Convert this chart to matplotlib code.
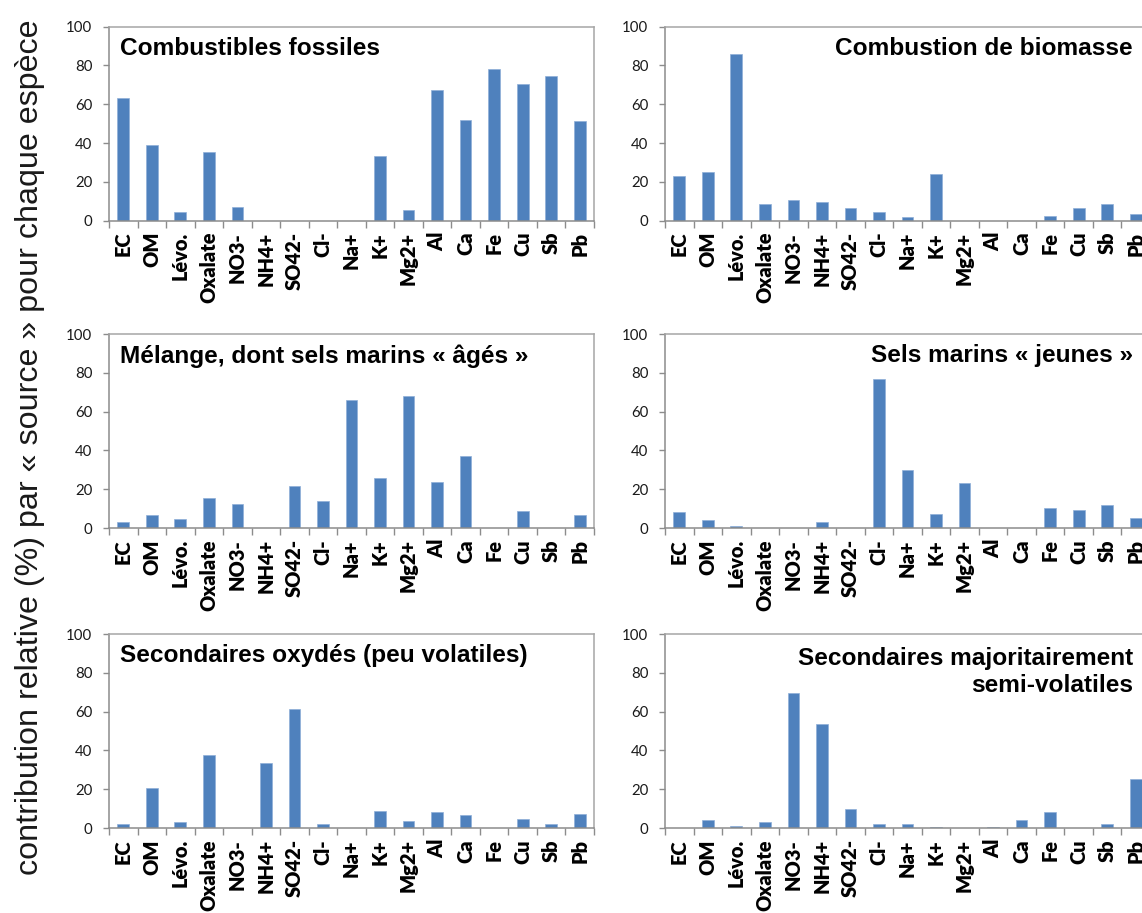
import matplotlib
matplotlib.use("Agg")
import matplotlib.pyplot as plt
import numpy as np

# Chemical species on the category axis
species = ["EC", "OM", "Lévo.", "Oxalate", "NO3-", "NH4+", "SO42-", "Cl-", "Na+",
           "K+", "Mg2+", "Al", "Ca", "Fe", "Cu", "Sb", "Pb"]

# Relative contribution (%) of each source factor to every species
fossil_fuels = [63.1, 39.0, 4.6, 35.4, 7.0, 0, 0, 0, 0,
                33.2, 5.3, 67.2, 51.7, 78.2, 70.6, 74.7, 51.5]
biomass_burning = [22.9, 24.9, 85.7, 8.4, 10.5, 9.6, 6.7, 4.6, 1.9,
                   24.1, 0, 0, 0, 2.4, 6.5, 8.4, 3.4]
aged_sea_salt_mix = [3.3, 6.9, 4.5, 15.3, 12.6, 0, 21.9, 13.8, 66.1,
                     25.8, 67.8, 23.8, 37.3, 0, 8.6, 0, 6.7]
fresh_sea_salt = [8.4, 4.0, 1.0, 0, 0, 2.9, 0, 76.6, 29.8,
                  7.2, 23.2, 0, 0, 10.2, 9.1, 12.0, 5.0]
oxidized_secondary = [1.9, 20.7, 2.9, 37.5, 0, 33.7, 61.1, 2.2, 0,
                      9.0, 3.6, 8.5, 6.6, 0, 4.7, 1.9, 7.3]
semivolatile_secondary = [0, 4.1, 0.9, 3.1, 69.5, 53.5, 10.0, 2.2, 2.1,
                          0.5, 0, 0.4, 4.1, 8.4, 0, 2.2, 25.5]

titles = [
    "Combustibles fossiles",
    "Combustion de biomasse",
    "Mélange, dont sels marins « âgés »",
    "Sels marins « jeunes »",
    "Secondaires oxydés (peu volatiles)",
    "Secondaires majoritairement\nsemi-volatiles",
]
series = [fossil_fuels, biomass_burning, aged_sea_salt_mix,
          fresh_sea_salt, oxidized_secondary, semivolatile_secondary]

W, H = 1142, 913
fig = plt.figure(figsize=(W / 100, H / 100), dpi=100)
fig.patch.set_facecolor("white")

bar_color = "#4F81BD"
axis_gray = "#8C8C8C"
frame_gray = "#A6A6A6"

col_left_px = [109, 665]
col_width_px = 485
row_top_px = [26.7, 334, 634]
row_height_px = 194

x = np.arange(len(species))

for i, (title, vals) in enumerate(zip(titles, series)):
    r, c = divmod(i, 2)
    left = col_left_px[c] / W
    bottom = 1 - (row_top_px[r] + row_height_px) / H
    ax = fig.add_axes([left, bottom, col_width_px / W, row_height_px / H])

    ax.bar(x, vals, width=0.41, color=bar_color, edgecolor="#8FAFD8",
           linewidth=0.5, zorder=2)

    ax.set_xlim(-0.5, len(species) - 0.5)
    ax.set_ylim(0, 100)
    ax.set_yticks(np.arange(0, 101, 20))

    # category labels at centres, tick marks on the category boundaries
    ax.set_xticks(x)
    ax.set_xticklabels(species, rotation=90, fontfamily="Lato",
                       fontweight="heavy", fontsize=14.4, color="black")
    ax.set_xticks(np.arange(-0.5, len(species), 1.0), minor=True)
    ax.tick_params(axis="x", which="major", length=0, pad=8)
    ax.tick_params(axis="x", which="minor", length=5, width=1.0,
                   color=axis_gray, direction="out")
    ax.tick_params(axis="y", which="major", length=4.5, width=1.0,
                   color=axis_gray, direction="out", pad=7.5,
                   labelsize=10.8, labelcolor="#1a1a1a")
    for lab in ax.get_yticklabels():
        lab.set_fontfamily("Lato")

    for side in ("left", "bottom"):
        ax.spines[side].set_color(axis_gray)
        ax.spines[side].set_linewidth(1.1)
    for side in ("top", "right"):
        ax.spines[side].set_color(frame_gray)
        ax.spines[side].set_linewidth(1.1)
    ax.spines["bottom"].set_zorder(3)

    if c == 0:
        ax.text(0.023, 0.887, title, transform=ax.transAxes, ha="left",
                va="center", fontfamily="Liberation Sans", fontweight="bold",
                fontsize=17.6, color="black")
    else:
        ypos = 0.887 if "\n" not in title else 0.806
        ax.text(0.965, ypos, title, transform=ax.transAxes, ha="right",
                va="center", multialignment="right", linespacing=1.22,
                fontfamily="Liberation Sans", fontweight="bold",
                fontsize=17.6, color="black")

fig.text(30 / W, 1 - 447 / H,
         "contribution relative (%) par « source » pour chaque espèce",
         rotation=90, ha="center", va="center",
         fontfamily="Liberation Sans", fontsize=23.2, color="#1a1a1a")

fig.savefig("out.png", dpi=100)
